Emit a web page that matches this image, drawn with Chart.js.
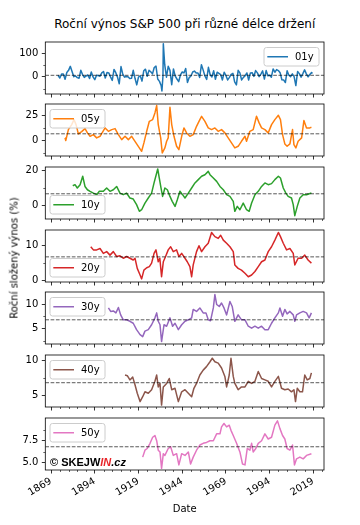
<!DOCTYPE html>
<html>
<head>
<meta charset="utf-8">
<script src="https://cdn.jsdelivr.net/npm/chart.js@4.4.0/dist/chart.umd.min.js"></script>
<style>
body { margin: 0; background: #fff; font-family: "DejaVu Sans", sans-serif; }
#wrap { position: relative; width: 360px; height: 525px; overflow: hidden; }
canvas { position: absolute; left: 0; }
.t { position: absolute; white-space: nowrap; color: #000; z-index: 2; }
</style>
</head>
<body>
<div id="wrap">
  <div class="t" style="left:184.7px;top:24px;transform:translate(-50%,-50%);font-size:12px;">Roční výnos S&amp;P 500 při různé délce držení</div>
  <div class="t" style="left:14px;top:258px;transform:translate(-50%,-50%) rotate(-90deg);font-size:10px;">Roční složený výnos (%)</div>
  <div class="t" style="left:184.7px;top:507.7px;transform:translate(-50%,-50%);font-size:10px;">Date</div>
  <div class="t" style="left:50px;top:462px;transform:translateY(-50%);font-family:'Liberation Sans',Arial,sans-serif;font-size:11px;font-weight:bold;">© SKEJW<span style="color:#e8262a;font-style:italic">IN</span><i>.cz</i></div>
</div>
<script>
// values (end of holding period, % p.a.)
var start01 = 1873;
var v01 = [7,-5,12,12,-10,19,28,45,23,1,4,-3,-6,28,10,-2,4,8,-7,21,0,-12,7,6,3,17,23,-5,19,17,
  0,-15,32,18,-1,-29,44,12,-1,2,1,-7,-6,28,-6,-34,-1,5,-18,26,33,3,28,22,13,40,46,-9,-19,-38,
  4,52,-1,45,28,-33,34,3,-9,-20,9,21,17,36,-24,-3,4,21,25,17,17,-2,52,29,4,-11,41,9,0,26,
  -10,20,15,10,-13,20,6,-13,-2,11,15,-21,-34,28,17,-13,-2,5,17,-13,17,18,2,27,17,1,12,26,-9,27,
  5,7,-1,34,20,31,27,18,-12,-13,-24,26,7,1,13,1,-37,23,14,-1,14,30,13,0,10,19];
var x01extra = [1932.4, 1933.2, 2018.5];
var v01extra = [-60, 142, 15];

var x05 = [1877.0,1877.4,1878.9,1880.8,1882.1,1883.3,1884.6,1886.5,1888.4,1889.8,1891.3,1893.2,1895.1,1897.0,1899.9,1901.8,1903.7,1905.6,1907.5,1909.4,
  1911.3,1913.2,1915.1,1917.0,1918.9,1920.8,1922.1,1923.7,1925.2,1927.1,1928.4,1929.4,1930.3,1931.7,1932.6,1934.1,1935.1,1936.0,1937.0,1938.0,
  1939.3,1940.8,1942.1,1943.7,1945.0,1946.5,1948.4,1950.3,1952.2,1954.1,1955.1,1957.0,1958.9,1960.8,1962.7,1964.6,1966.5,1968.4,1970.3,1972.2,
  1974.1,1976.0,1977.9,1979.9,1980.8,1982.7,1984.6,1986.5,1988.0,1989.4,1991.3,1993.2,1995.1,1997.0,1999.0,2000.2,2001.4,2002.7,2004.0,2005.6,
  2007.1,2007.9,2009.0,2010.3,2012.3,2013.6,2015.1,2017.0,2017.9];
var v05 = [2.7,0,11,16,21,16,6.7,9,12,7.7,4.3,6,2.7,4.3,12.7,9.3,11,12,6,1,
  4.3,1,4.3,-0.7,-5.7,-10.7,-2.3,9.3,19.3,21,27.7,35,16,2.7,-12.3,-7.3,-0.7,2.7,33.3,16,
  4.3,-5.7,-9,4.3,12.7,7.7,4.3,6,14.3,21,24.3,19.3,12.7,11,12.7,9.3,11,7.7,2.7,-2.3,
  -7.3,-5.7,-0.7,4.3,-0.7,9.3,11,24.3,17.7,12.7,11,7.7,16,21,25.3,21,6,-3.3,-5.7,-3.3,
  11,-4,-7.3,-0.7,2.7,20,12.7,12.7,13.3];

var x10 = [1881.4,1882.7,1884.0,1885.6,1887.1,1888.4,1889.8,1891.3,1893.2,1895.1,1896.6,1898.9,1900.8,1902.7,1904.6,1906.5,1908.4,1910.3,1912.2,1914.1,
  1916.0,1917.9,1919.5,1920.8,1922.7,1924.6,1926.5,1927.9,1929.4,1930.0,1930.9,1931.9,1932.8,1934.1,1935.5,1937.0,1938.3,1939.9,1941.2,1942.7,
  1944.2,1945.6,1947.5,1949.4,1951.3,1953.2,1955.1,1957.0,1958.9,1959.9,1961.8,1963.7,1965.6,1967.5,1969.4,1971.3,1973.2,1974.1,1975.5,1977.0,
  1978.9,1980.8,1982.3,1983.7,1985.6,1987.5,1989.4,1991.3,1993.2,1995.1,1997.0,1999.0,2000.2,2001.8,2003.3,2004.6,2006.5,2007.5,2008.4,2009.8,
  2011.3,2013.2,2015.1,2017.9];
var v10 = [11.4,12,10.1,12,16.8,11,9.1,8.2,7.2,6.3,8.2,8.2,10.1,8.2,9.1,11,7.2,6.3,7.2,4.4,
  3.8,0.6,-3.2,-2.3,1.5,4.4,7.2,13,18.7,21,15.8,10.1,5.3,10.1,9.1,5.3,2.5,-0.4,3.4,8.2,
  6.3,4.4,7.2,10.1,13,14.9,16.8,17.7,19.6,17.7,15.8,13.9,11,9.1,6.3,5.3,2.5,-3.2,-0.4,-2.3,
  1.5,-2.3,-3.2,1.5,6.3,8.2,11,13,12,12.6,14.9,16.8,15.8,10.1,7.2,5.3,4.4,0.6,-5.7,-0.4,
  4.4,6.3,6.3,7.2];

var x20 = [1891.7,1893.2,1895.1,1897.0,1898.9,1900.8,1902.7,1904.6,1906.5,1908.4,1910.3,1912.2,1914.1,1916.0,1917.0,1918.3,1919.9,1920.8,1922.1,1923.7,
  1925.2,1926.5,1927.9,1929.0,1930.3,1931.2,1932.2,1933.2,1934.5,1936.0,1937.4,1938.9,1940.8,1942.1,1943.7,1945.6,1946.9,1948.4,1949.4,1950.3,
  1952.2,1953.6,1955.1,1957.0,1958.9,1960.8,1962.7,1964.6,1966.0,1967.5,1969.4,1971.3,1973.2,1974.1,1976.0,1977.9,1979.9,1981.8,1983.7,1985.6,
  1987.5,1989.4,1991.3,1993.2,1995.1,1997.0,1999.0,2000.2,2001.8,2003.7,2005.6,2007.5,2008.4,2010.3,2012.3,2014.1,2016.0,2017.9];
var v20 = [9.7,8.8,8.8,9.2,7.8,8.3,7.3,8.3,6.9,7.1,6.4,6.9,6.4,5.9,6.4,3.5,1.6,0.5,3,3.7,
  4,5,7.8,8.8,5.4,6.4,1.1,5.4,6.9,8.8,9.7,8.3,8.8,6.9,7.8,6.4,5.4,4,1.1,4.5,
  8.3,10,8.3,9.7,10.7,13.8,12.6,12.1,13,11.6,10.7,9.7,8.3,4.5,3.5,3,2.1,1.1,1.6,2.6,
  4,5.4,5.9,8.3,9.7,11.6,13.8,12.6,10.7,8.8,9.2,7.8,4.5,6.4,6.4,7.3,5.9,5];

var x30 = [1901.8,1903.1,1904.6,1906.1,1907.5,1908.8,1910.3,1912.2,1914.1,1916.0,1917.9,1919.9,1921.4,1922.7,1924.6,1926.5,1928.4,1929.4,1930.3,1931.3,
  1932.2,1933.6,1935.1,1937.0,1938.5,1939.9,1941.8,1943.7,1945.6,1947.5,1949.4,1950.3,1952.2,1954.1,1956.0,1957.6,1958.9,1960.2,1961.8,1962.7,
  1963.7,1965.2,1966.5,1967.9,1969.4,1971.3,1972.6,1974.1,1976.0,1977.9,1979.9,1981.8,1983.7,1985.6,1987.5,1989.4,1991.3,1993.2,1995.1,1997.0,
  1999.0,1999.9,2001.4,2002.7,2004.0,2005.6,2007.5,2008.4,2009.4,2011.3,2013.2,2015.1,2016.6,2017.9];
var v30 = [9.2,8.5,8.6,8.2,9.3,7.8,6.8,6.8,6.5,6.1,4.8,3.8,3.4,4.5,4.8,5.8,7.2,8.2,6.5,5.8,
  2.4,5.8,5.5,7.2,5.5,6.1,4.8,5.8,6.5,6.8,7.2,8.9,8.5,9.2,8.2,8.2,6.8,6.6,9.2,11.9,
  9.9,9.5,10.2,9.2,7.8,10.5,9.5,6.5,7.8,6.8,6.8,5.5,5.1,5.5,5.1,5.5,4.8,4.8,6.1,7.2,
  8.2,9.2,7.5,8.9,8,8.5,7.8,6.5,7.8,8.2,8.5,8.2,7.2,8.2];

var x40 = [1911.3,1912.6,1914.1,1915.7,1917.0,1918.3,1919.9,1921.4,1922.7,1924.6,1926.5,1928.4,1929.4,1930.3,1931.3,1932.2,1933.2,1935.1,1936.6,1938.0,
  1939.9,1941.8,1943.7,1945.6,1947.5,1949.4,1950.7,1952.2,1954.1,1956.0,1957.9,1959.9,1961.2,1962.7,1964.6,1966.5,1968.4,1969.4,1970.9,1971.9,
  1973.2,1974.1,1976.0,1977.9,1979.9,1981.8,1983.7,1985.6,1987.5,1989.4,1991.3,1993.2,1995.1,1997.0,1999.0,2000.8,2002.7,2004.6,2006.5,2007.9,
  2008.8,2009.8,2011.3,2012.8,2014.1,2015.5,2017.0,2017.9];
var v40 = [7.9,7.8,7.2,7.6,6.5,5.3,4.1,4.8,5.5,5.3,5.8,7,7.9,6.2,6.7,3.6,6.2,6.7,7.4,5.8,
  6,4.1,5.5,5.8,5.3,4.8,6,6.7,7.9,8.6,9.1,9.8,10.3,9.8,9.6,8.9,7.7,6.2,7.9,10.3,
  7.7,6.7,5.8,6.2,6.2,7,6.7,7,8.4,7.4,7.2,7,6.2,7,7.7,6,5.8,5.9,5.5,5.8,
  4.1,6,5.5,5.5,7.9,7.2,7.4,8.2];

var x50 = [1921.4,1922.7,1924.0,1925.6,1927.1,1928.4,1929.4,1930.3,1931.3,1932.2,1933.2,1934.1,1936.0,1937.4,1938.9,1940.8,1942.1,1943.7,1945.6,1947.5,
  1948.8,1950.3,1952.2,1954.1,1956.0,1957.9,1959.9,1961.8,1963.7,1965.6,1966.5,1967.9,1969.4,1970.9,1971.9,1973.2,1975.1,1977.0,1978.5,1979.9,
  1981.2,1982.7,1983.7,1984.6,1986.1,1987.5,1989.4,1991.3,1993.2,1995.1,1997.0,1998.5,1999.9,2001.4,2002.7,2004.0,2005.6,2007.1,2008.2,2009.4,
  2011.3,2013.2,2015.1,2017.9];
var v50 = [5.6,6.4,6.6,7.2,7.9,8.1,7.5,6.4,6.2,4.3,6,5.8,6.6,6.8,5.8,6,4.7,6,5.8,6.2,
  4.8,5.6,6.4,7,7.2,7.3,7.5,7.5,8.3,8.3,9.1,9.5,9.1,9.3,8.7,8.1,7.2,6.2,4.8,4.7,
  6.6,6.4,7.2,6.2,6.6,7.2,7.5,8.3,7.7,7.9,9.3,9.8,8.9,8.1,7.7,6.6,6.4,7,4.7,5.4,
  5.6,5.4,5.8,6];

var meanValue = 6.8;
var names = ["01y", "05y", "10y", "20y", "30y", "40y", "50y"];
var xMajor = [1869, 1894, 1919, 1944, 1969, 1994, 2019];
var xMinor = [1874,1879,1884,1889,1899,1904,1909,1914,1924,1929,1934,1939,1949,1954,1959,1964,1974,1979,1984,1989,1999,2004,2009,2014,2024];
var yMajor = [[0, 100], [0, 25], [0, 20], [0, 10], [5, 10], [5, 10], [5, 7.5]];
var yMinor = [[-50, 50], [-12.5, 12.5], [10], [5], [2.5, 7.5], [7.5], [6.25, 8.75]];
var yMin = [-73, -15.4, -7.6, -0.4, 1.9, 3.33, 4.11];
var yMax = [149, 36.6, 22.1, 14.5, 12.43, 10.76, 10.13];
var colors = ["#1f77b4", "#ff7f0e", "#2ca02c", "#d62728", "#9467bd", "#8c564b", "#e377c2"];
var legendPos = ["ur", "ul", "ll", "ll", "ul", "ul", "ul"];
var panelTop = [41.7, 104.4, 167.3, 230, 292, 355, 418];
var plotH = 52;

// 01y: yearly points plus the monthly extremes visible in the picture
var pts01 = v01.map(function (v, i) { return { x: start01 + i, y: v }; });
x01extra.forEach(function (x, i) { pts01.push({ x: x, y: v01extra[i] }); });
pts01.sort(function (a, b) { return a.x - b.x; });

function pairs(xs, vs) {
  return xs.map(function (x, i) { return { x: x, y: vs[i] }; });
}
var series = [pts01, pairs(x05, v05), pairs(x10, v10), pairs(x20, v20), pairs(x30, v30), pairs(x40, v40), pairs(x50, v50)];

Chart.defaults.font.family = "'DejaVu Sans', sans-serif";
Chart.defaults.font.size = 10;
Chart.defaults.color = "#000";

// frame + minor ticks like matplotlib
var frame = {
  id: "frame",
  afterDraw: function (chart, args, opts) {
    var ctx = chart.ctx, a = chart.chartArea;
    var xs = chart.scales.x, ys = chart.scales.y;
    ctx.save();
    ctx.strokeStyle = "#000";
    ctx.lineWidth = 0.6;
    ctx.beginPath();
    opts.xm.forEach(function (v) {
      var p = Math.round(xs.getPixelForValue(v)) + 0.5;
      ctx.moveTo(p, a.bottom); ctx.lineTo(p, a.bottom + 2);
    });
    opts.ym.forEach(function (v) {
      var p = Math.round(ys.getPixelForValue(v)) + 0.5;
      ctx.moveTo(a.left, p); ctx.lineTo(a.left - 2, p);
    });
    ctx.stroke();
    ctx.lineWidth = 0.8;
    ctx.strokeRect(a.left, a.top, a.right - a.left, a.bottom - a.top);
    ctx.restore();
  }
};

// legend box drawn inside the axes
var boxLegend = {
  id: "boxLegend",
  afterDraw: function (chart, args, opts) {
    var ctx = chart.ctx, a = chart.chartArea;
    var w = 55, h = 18.5;
    var x = opts.pos === "ur" ? a.right - 5 - w : a.left + 4.7;
    var y = opts.pos === "ll" ? a.bottom - 5 - h : a.top + 5.5;
    ctx.save();
    ctx.fillStyle = "rgba(255,255,255,0.8)";
    ctx.strokeStyle = "#cccccc";
    ctx.lineWidth = 1;
    ctx.beginPath();
    ctx.roundRect(x, y, w, h, 2.5);
    ctx.fill();
    ctx.stroke();
    ctx.strokeStyle = opts.color;
    ctx.lineWidth = 1.5;
    ctx.beginPath();
    ctx.moveTo(x + 3.3, y + h / 2);
    ctx.lineTo(x + 24, y + h / 2);
    ctx.stroke();
    ctx.fillStyle = "#000";
    ctx.font = "10px 'DejaVu Sans'";
    ctx.textBaseline = "middle";
    ctx.fillText(opts.text, x + 31, y + h / 2 + 0.5);
    ctx.restore();
  }
};

var wrap = document.getElementById("wrap");
var padTop = 8;

for (let i = 0; i < 7; i++) {
  let last = i === 6;
  let xH = last ? 40 : 5;
  let cv = document.createElement("canvas");
  cv.width = 360;
  cv.height = padTop + plotH + xH;
  cv.style.top = (panelTop[i] - padTop) + "px";
  cv.style.width = "360px";
  cv.style.height = cv.height + "px";
  wrap.appendChild(cv);

  new Chart(cv.getContext("2d"), {
    type: "line",
    data: {
      datasets: [
        {
          data: [{ x: 1865.7, y: meanValue }, { x: 2025.1, y: meanValue }],
          borderColor: "rgba(0,0,0,0.65)",
          borderWidth: 1,
          borderDash: [3.7, 1.6],
          pointRadius: 0,
          order: 0
        },
        {
          label: names[i],
          data: series[i],
          borderColor: colors[i],
          borderWidth: 1.5,
          pointRadius: 0,
          tension: 0,
          borderJoinStyle: "round",
          order: 1
        }
      ]
    },
    options: {
      responsive: false,
      animation: false,
      events: [],
      layout: { padding: { top: padTop, left: 0, right: 36, bottom: 0 } },
      plugins: {
        legend: { display: false },
        tooltip: { enabled: false },
        frame: { xm: xMinor, ym: yMinor[i] },
        boxLegend: { pos: legendPos[i], color: colors[i], text: names[i] }
      },
      scales: {
        x: {
          type: "linear",
          min: 1865.7,
          max: 2025.1,
          afterBuildTicks: function (s) { s.ticks = xMajor.map(function (v) { return { value: v }; }); },
          afterFit: function (s) { s.height = xH; s.paddingLeft = 0; s.paddingRight = 0; },
          grid: { drawOnChartArea: false, drawTicks: true, tickLength: 3.5, tickColor: "#000", tickWidth: 0.8 },
          border: { display: false },
          ticks: {
            display: last,
            autoSkip: false,
            minRotation: 30,
            maxRotation: 30,
            padding: 2,
            color: "#000",
            callback: function (v) { return String(v); }
          }
        },
        y: {
          min: yMin[i],
          max: yMax[i],
          afterBuildTicks: function (s) { s.ticks = yMajor[i].map(function (v) { return { value: v }; }); },
          afterFit: function (s) { s.width = 45.3; s.paddingTop = 0; s.paddingBottom = 0; },
          grid: { drawOnChartArea: false, drawTicks: true, tickLength: 3.5, tickColor: "#000", tickWidth: 0.8 },
          border: { display: false },
          ticks: {
            padding: 3.5,
            color: "#000",
            callback: function (v) { return last ? v.toFixed(1) : String(v); }
          }
        }
      }
    },
    plugins: [frame, boxLegend]
  });
}
</script>
</body>
</html>
